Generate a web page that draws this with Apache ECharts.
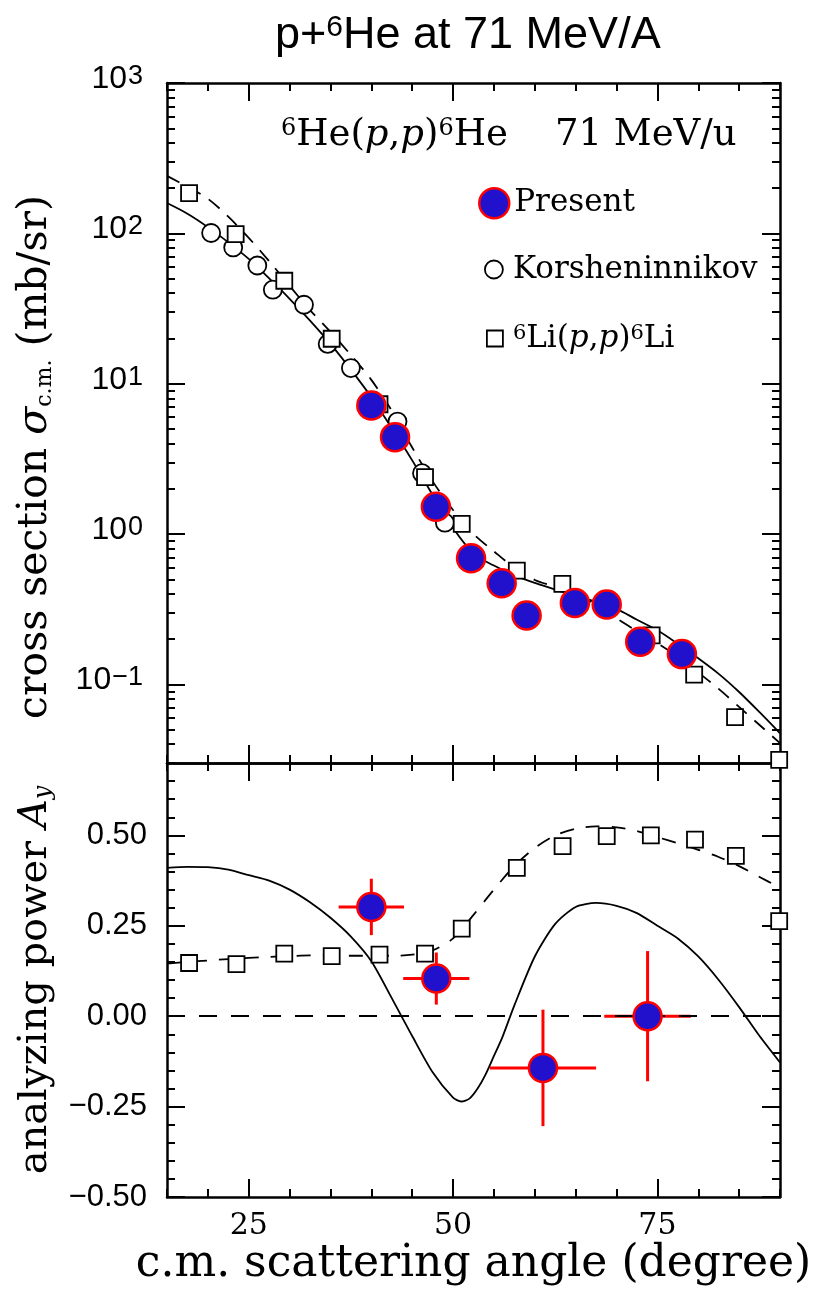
<!DOCTYPE html>
<html>
<head>
<meta charset="utf-8">
<title>p+6He at 71 MeV/A</title>
<script src="https://cdn.jsdelivr.net/npm/echarts@6/dist/echarts.min.js"></script>
<style>
  html, body { margin: 0; padding: 0; background: #fff; }
  #chart { width: 828px; height: 1299px; }
</style>
</head>
<body>
<div id="chart"></div>
<script>
// ---- cross section (mb/sr) vs c.m. angle (deg) ----
var presAngle = [40.0, 42.9, 47.9, 52.2, 55.95, 59.0, 64.9, 68.8, 72.9, 78.0];
var presSigma = [7.16, 4.41, 1.52, 0.69, 0.471, 0.287, 0.348, 0.340, 0.192, 0.159];

var korAngle = [20.4, 23.1, 26.05, 27.95, 31.76, 34.66, 37.5, 43.2, 46.2, 49.0];
var korSigma = [100.5, 80.6, 61.1, 42.2, 33.5, 18.4, 12.7, 5.6, 2.54, 1.19];

var liAngle = [17.7, 23.4, 29.35, 35.15, 41.0, 46.57, 51.06, 57.8, 63.37, 74.3, 79.5, 84.5, 89.9];
var liSigma = [185, 98.9, 48.4, 19.9, 7.3, 2.39, 1.17, 0.571, 0.466, 0.212, 0.116, 0.0605, 0.0315];

var curveAngle = [15, 17.5, 20, 22.5, 25, 27.5, 30, 32.5, 35, 37.5, 40, 42.5, 45, 47.5, 50, 52.5,
                  55, 57.5, 60, 62.5, 65, 67.5, 70, 72.5, 75, 77.5, 80, 82.5, 85, 87.5, 90];
var solidSigma = [159, 135, 110, 87.1, 67.6, 50.1, 36.7, 26.3, 18.4, 12.4, 8.13, 5.07, 3.09, 1.82, 1.096, 0.741,
                  0.617, 0.531, 0.473, 0.427, 0.389, 0.353, 0.318, 0.269, 0.229, 0.186, 0.149, 0.1175, 0.089, 0.0653, 0.0473];
var dashSigma = [241, 204, 170, 129, 93.3, 65.3, 44.7, 30.9, 22.1, 15.5, 10.6, 6.61, 3.76, 2.24, 1.445, 1.0,
                 0.767, 0.596, 0.495, 0.447, 0.398, 0.339, 0.275, 0.226, 0.188, 0.153, 0.120, 0.0933, 0.0708, 0.0537, 0.0407];

// ---- analyzing power ----
var presAyAngle = [40.0, 47.95, 61.0, 73.8];
var presAy = [0.302, 0.104, -0.143, 0.0];
var presAyErrAngle = [4.0, 4.05, 6.5, 5.3];
var presAyErr = [0.078, 0.072, 0.161, 0.18];

var liAyAngle = [17.7, 23.5, 29.35, 35.15, 41.0, 46.57, 51.06, 57.8, 63.4, 68.8, 74.2, 79.6, 84.6, 89.9];
var liAy = [0.147, 0.144, 0.173, 0.166, 0.170, 0.173, 0.242, 0.410, 0.470, 0.498, 0.50, 0.488, 0.443, 0.263];

var dashAy = [0.145, 0.150, 0.154, 0.158, 0.161, 0.164, 0.166, 0.168, 0.168, 0.167, 0.167, 0.167, 0.170, 0.182, 0.215, 0.28,
              0.35, 0.415, 0.465, 0.50, 0.518, 0.525, 0.522, 0.512, 0.495, 0.478, 0.46, 0.44, 0.415, 0.385, 0.355];

var solidAyAngle = [15, 17.5, 20, 22.5, 25, 27.5, 30, 32.5, 35, 37.5, 40, 42.5, 45, 47.5, 50, 51, 52, 53,
                    54, 55, 56, 57.5, 60, 62.5, 65, 67.5, 70, 72.5, 75, 77.5, 80, 82.5, 85, 87.5, 90];
var solidAy = [0.41, 0.413, 0.412, 0.405, 0.39, 0.375, 0.35, 0.315, 0.272, 0.22, 0.152, 0.05, -0.055, -0.155, -0.225, -0.236, -0.228, -0.2,
               -0.16, -0.11, -0.06, 0.03, 0.165, 0.255, 0.302, 0.313, 0.305, 0.285, 0.25, 0.215, 0.165, 0.10, 0.025, -0.055, -0.128];

// tick labels
var angleLabels = [25, 50, 75];
var sigmaLabels = [0.1, 1, 10, 100, 1000];
var ayLabels = [-0.5, -0.25, 0, 0.25, 0.5];

function zip(a, b) { return a.map(function (v, i) { return [v, b[i]]; }); }

// tick positions
var angleMinor = [];
for (var a = 15; a <= 90; a += 5) angleMinor.push(a);
var sigmaMinor = [];
for (var e = -2; e <= 2; e++) {
    for (var k = 2; k <= 9; k++) {
        var v = +(k * Math.pow(10, e)).toPrecision(3);
        if (v >= 0.03 && v <= 1000) sigmaMinor.push(v);
    }
}
var ayMinor = [];
for (var j = -10; j <= 14; j++) ayMinor.push(+(j * 0.05).toFixed(2));

var BLUE = '#2211cc', RED = '#ff0000';
var SERIF = 'DejaVu Serif', SANS = 'Liberation Sans';
var MAJ = 18, MIN = 8;

function xAxisOf(grid, pos, ticks, len, extra) {
    return Object.assign({
        type: 'value', gridIndex: grid, position: pos, min: 15, max: 90,
        axisLine: { show: true, onZero: false, lineStyle: { color: '#000', width: 2.5 } },
        axisTick: { show: true, inside: true, length: len, customValues: ticks, lineStyle: { color: '#000', width: 2 } },
        axisLabel: { show: false },
        splitLine: { show: false }
    }, extra || {});
}
function sigAxisOf(pos, ticks, len, extra) {
    return Object.assign({
        type: 'log', logBase: 10, gridIndex: 0, position: pos, min: 0.03, max: 1000,
        axisLine: { show: true, onZero: false, lineStyle: { color: '#000', width: 2.5 } },
        axisTick: { show: true, inside: true, length: len, customValues: ticks, lineStyle: { color: '#000', width: 2 } },
        axisLabel: { show: false },
        splitLine: { show: false }
    }, extra || {});
}
function ayAxisOf(pos, ticks, len, extra) {
    return Object.assign({
        type: 'value', gridIndex: 1, position: pos, min: -0.5, max: 0.7,
        axisLine: { show: true, onZero: false, lineStyle: { color: '#000', width: 2.5 } },
        axisTick: { show: true, inside: true, length: len, customValues: ticks, lineStyle: { color: '#000', width: 2 } },
        axisLabel: { show: false },
        splitLine: { show: false }
    }, extra || {});
}

var chart = echarts.init(document.getElementById('chart'));

var option = {
    animation: false,
    backgroundColor: '#fff',
    title: [{
        text: '{a|p+}{s|6}{a|He at 71 MeV/A}',
        left: 270, top: 8,
        textStyle: {
            fontSize: 45, fontFamily: SANS, fontWeight: 'normal', color: '#000',
            rich: {
                a: { fontSize: 45, fontFamily: SANS, color: '#000' },
                s: { fontSize: 30, fontFamily: SANS, color: '#000', verticalAlign: 'top' }
            }
        }
    }, {
        text: '{s|6}He({i|p},{i|p}){s|6}He    71 MeV/u',
        left: 276, top: 112,
        textStyle: {
            fontSize: 37, fontFamily: SERIF, fontWeight: 'normal', color: '#000',
            rich: {
                s: { fontSize: 24, fontFamily: SERIF, color: '#000', verticalAlign: 'top' },
                i: { fontSize: 37, fontFamily: SERIF, fontStyle: 'italic', color: '#000' }
            }
        }
    }],
    legend: [{
        data: [{ name: 'Present', icon: 'circle' }],
        left: 478, top: 187, padding: 0, itemWidth: 30, itemHeight: 30, selectedMode: false,
        itemStyle: { color: BLUE, borderColor: RED, borderWidth: 2.5 },
        textStyle: { fontFamily: SERIF, fontSize: 31, color: '#000' }
    }, {
        data: [{ name: 'Korsheninnikov', icon: 'circle' }],
        left: 484, top: 254, padding: 0, itemWidth: 18, itemHeight: 18, selectedMode: false,
        itemStyle: { color: '#fff', borderColor: '#000', borderWidth: 1.8 },
        textStyle: { fontFamily: SERIF, fontSize: 31, color: '#000', padding: [0, 0, 0, 5] }
    }, {
        data: [{ name: '6Li', icon: 'rect' }],
        left: 486, top: 323, padding: 0, itemWidth: 16, itemHeight: 16, selectedMode: false,
        itemStyle: { color: '#fff', borderColor: '#000', borderWidth: 1.8 },
        formatter: function () { return '{s|6}Li({i|p},{i|p}){s|6}Li'; },
        textStyle: {
            fontFamily: SERIF, fontSize: 31, color: '#000', padding: [0, 0, 0, 5],
            rich: {
                s: { fontSize: 21, fontFamily: SERIF, color: '#000', verticalAlign: 'top' },
                i: { fontSize: 31, fontFamily: SERIF, fontStyle: 'italic', color: '#000' }
            }
        }
    }],
    grid: [
        { left: 167, top: 83, width: 613, height: 680 },
        { left: 167, top: 763, width: 613, height: 434 }
    ],
    xAxis: [
        xAxisOf(0, 'bottom', angleLabels, MAJ),
        xAxisOf(0, 'bottom', angleMinor, MIN, { axisLine: { show: false, onZero: false } }),
        xAxisOf(0, 'top', angleLabels, MAJ),
        xAxisOf(0, 'top', angleMinor, MIN, { axisLine: { show: false, onZero: false } }),
        xAxisOf(1, 'bottom', angleLabels, MAJ, {
            axisLabel: { show: true, customValues: angleLabels, margin: 14, fontFamily: SERIF, fontSize: 30, color: '#000' },
            name: 'c.m. scattering angle (degree)', nameLocation: 'middle', nameGap: 46,
            nameTextStyle: { fontFamily: SERIF, fontSize: 44, color: '#000' }
        }),
        xAxisOf(1, 'bottom', angleMinor, MIN, { axisLine: { show: false, onZero: false } }),
        xAxisOf(1, 'top', angleLabels, MAJ),
        xAxisOf(1, 'top', angleMinor, MIN, { axisLine: { show: false, onZero: false } })
    ],
    yAxis: [
        sigAxisOf('left', sigmaLabels, MAJ, {
            axisLabel: {
                show: true, customValues: sigmaLabels, margin: 24, padding: [0, 0, 8, 0],
                fontFamily: SANS, fontSize: 32, color: '#000',
                formatter: function (v) {
                    var n = Math.round(Math.log10(v));
                    return '{b|10}{e|' + (n < 0 ? '\u2212' + (-n) : n) + '}';
                },
                rich: {
                    b: { fontFamily: SANS, fontSize: 32, lineHeight: 32, color: '#000', verticalAlign: 'bottom' },
                    e: { fontFamily: SANS, fontSize: 27, lineHeight: 27, color: '#000', verticalAlign: 'top', padding: [0, 0, 12, 1] }
                }
            },
            name: 'cross section {g|σ}{sub|c.m.} (mb/sr)', nameLocation: 'middle', nameGap: 111,
            nameTextStyle: {
                fontFamily: SERIF, fontSize: 41, color: '#000', padding: [0, 68, 0, 0],
                rich: {
                    g: { fontFamily: SERIF, fontSize: 41, fontStyle: 'italic', color: '#000' },
                    sub: { fontFamily: SERIF, fontSize: 22, color: '#000', verticalAlign: 'bottom' }
                }
            }
        }),
        sigAxisOf('left', sigmaMinor, MIN, { axisLine: { show: false, onZero: false } }),
        sigAxisOf('right', sigmaLabels, MAJ),
        sigAxisOf('right', sigmaMinor, MIN, { axisLine: { show: false, onZero: false } }),
        ayAxisOf('left', ayLabels, MAJ, {
            axisLabel: {
                show: true, customValues: ayLabels, margin: 20, fontFamily: SANS, fontSize: 31, color: '#000',
                formatter: function (v) { return (v < 0 ? '\u2212' : '') + Math.abs(v).toFixed(2); }
            },
            name: 'analyzing power {i|A}{sub|y}', nameLocation: 'middle', nameGap: 111,
            nameTextStyle: {
                fontFamily: SERIF, fontSize: 40, color: '#000',
                rich: {
                    i: { fontFamily: SERIF, fontSize: 40, fontStyle: 'italic', color: '#000' },
                    sub: { fontFamily: SERIF, fontSize: 24, fontStyle: 'italic', color: '#000', verticalAlign: 'bottom' }
                }
            }
        }),
        ayAxisOf('left', ayMinor, MIN, { axisLine: { show: false, onZero: false } }),
        ayAxisOf('right', ayLabels, MAJ),
        ayAxisOf('right', ayMinor, MIN, { axisLine: { show: false, onZero: false } })
    ],
    series: [
        // --- top panel ---
        {
            type: 'line', xAxisIndex: 0, yAxisIndex: 0, data: zip(curveAngle, solidSigma),
            showSymbol: false, smooth: 0.3, z: 2, silent: true,
            lineStyle: { color: '#000', width: 1.8 }
        },
        {
            type: 'line', xAxisIndex: 0, yAxisIndex: 0, data: zip(curveAngle, dashSigma),
            showSymbol: false, smooth: 0.3, z: 2, silent: true,
            lineStyle: { color: '#000', width: 1.8, type: [14, 10] }
        },
        {
            name: 'Korsheninnikov', type: 'scatter', xAxisIndex: 0, yAxisIndex: 0, data: zip(korAngle, korSigma),
            symbol: 'circle', symbolSize: 18, z: 3, clip: false,
            itemStyle: { color: '#fff', borderColor: '#000', borderWidth: 1.8, opacity: 1 }
        },
        {
            name: '6Li', type: 'scatter', xAxisIndex: 0, yAxisIndex: 0, data: zip(liAngle, liSigma),
            symbol: 'rect', symbolSize: 16, z: 3, clip: false,
            itemStyle: { color: '#fff', borderColor: '#000', borderWidth: 1.8, opacity: 1 }
        },
        {
            name: 'Present', type: 'scatter', xAxisIndex: 0, yAxisIndex: 0, data: zip(presAngle, presSigma),
            symbol: 'circle', symbolSize: 28, z: 5, clip: false,
            itemStyle: { color: BLUE, borderColor: RED, borderWidth: 2.5, opacity: 1 }
        },
        // --- bottom panel ---
        {
            type: 'line', xAxisIndex: 4, yAxisIndex: 4, data: zip(solidAyAngle, solidAy),
            showSymbol: false, smooth: 0.25, z: 2, silent: true,
            lineStyle: { color: '#000', width: 1.8 },
            markLine: {
                silent: true, symbol: 'none', label: { show: false },
                lineStyle: { color: '#000', width: 1.8, type: [18, 14] },
                data: [{ yAxis: 0 }]
            }
        },
        {
            type: 'line', xAxisIndex: 4, yAxisIndex: 4, data: zip(curveAngle, dashAy),
            showSymbol: false, smooth: 0.3, z: 2, silent: true,
            lineStyle: { color: '#000', width: 1.8, type: [14, 12] }
        },
        {
            name: '6Li', type: 'scatter', xAxisIndex: 4, yAxisIndex: 4, data: zip(liAyAngle, liAy),
            symbol: 'rect', symbolSize: 16, z: 3, clip: false,
            itemStyle: { color: '#fff', borderColor: '#000', borderWidth: 1.8, opacity: 1 }
        },
        {
            type: 'custom', xAxisIndex: 4, yAxisIndex: 4, z: 4, silent: true,
            data: presAyAngle.map(function (x, i) { return [x, presAy[i], presAyErrAngle[i], presAyErr[i]]; }),
            renderItem: function (params, api) {
                var x = api.value(0), y = api.value(1), dx = api.value(2), dy = api.value(3);
                var l = api.coord([x - dx, y]), r = api.coord([x + dx, y]);
                var t = api.coord([x, y + dy]), b = api.coord([x, y - dy]);
                var st = { stroke: RED, lineWidth: 3 };
                return {
                    type: 'group', children: [
                        { type: 'line', shape: { x1: l[0], y1: l[1], x2: r[0], y2: r[1] }, style: st },
                        { type: 'line', shape: { x1: t[0], y1: t[1], x2: b[0], y2: b[1] }, style: st }
                    ]
                };
            }
        },
        {
            name: 'Present', type: 'scatter', xAxisIndex: 4, yAxisIndex: 4, data: zip(presAyAngle, presAy),
            symbol: 'circle', symbolSize: 28, z: 5, clip: false,
            itemStyle: { color: BLUE, borderColor: RED, borderWidth: 2.5, opacity: 1 }
        }
    ]
};

chart.setOption(option);
</script>
</body>
</html>
